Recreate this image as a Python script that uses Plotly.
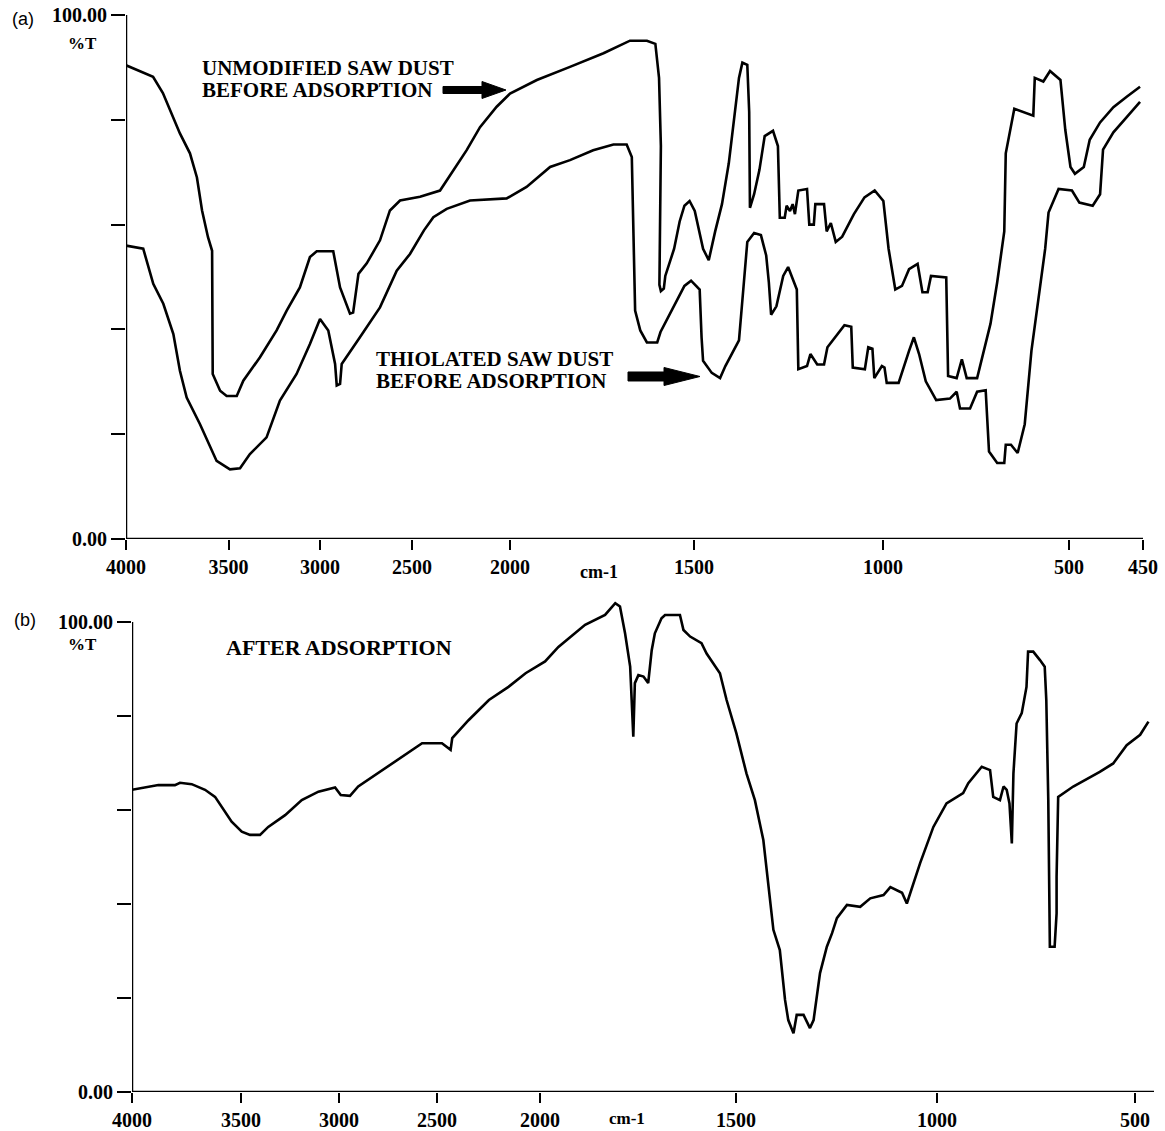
import numpy as np
import plotly.graph_objects as go

W, H = 1165, 1131

# ---------------- data (wavenumber cm-1, %T) ----------------
UNMOD_WN = [4000, 3868, 3820, 3771, 3737, 3688, 3654, 3629, 3600, 3580, 3577, 3541, 3509, 3455, 3419,
            3328, 3237, 3182, 3110, 3055, 3018, 2928, 2891, 2837, 2820, 2791, 2746, 2674, 2620, 2565,
            2459, 2357, 2289, 2221, 2153, 2068, 2000, 1927, 1837, 1746, 1674, 1628, 1605, 1595, 1590,
            1592, 1594, 1590, 1582, 1578, 1570, 1554, 1539, 1526, 1512, 1498, 1476, 1461, 1444, 1426,
            1408, 1395, 1381, 1372, 1359, 1354, 1352, 1341, 1327, 1313, 1291, 1278, 1273, 1260, 1255,
            1246, 1239, 1233, 1224, 1201, 1195, 1183, 1179, 1156, 1149, 1138, 1125, 1108, 1077, 1049,
            1022, 999, 985, 967, 949, 930, 907, 894, 880, 871, 830, 825, 802, 788, 775,
            747, 711, 693, 674, 670, 647, 596, 592, 569, 551, 523, 510, 499, 496, 490,
            486, 479, 470, 461, 452]
UNMOD_T = [90.4, 88.2, 85.1, 80.5, 77.4, 73.6, 69.0, 62.7, 57.6, 55.0, 31.5, 28.3, 27.3, 27.3, 30.2,
           34.7, 39.8, 43.6, 48.0, 53.8, 54.9, 54.9, 48.0, 43.0, 43.2, 50.6, 52.6, 57.0, 62.7, 64.6,
           65.3, 66.5, 70.4, 74.2, 78.6, 82.5, 85.0, 87.6, 90.1, 92.7, 95.1, 95.1, 94.5, 88.0, 75.0,
           60.0, 48.5, 47.3, 47.8, 50.2, 52.0, 55.4, 60.6, 63.6, 64.5, 62.6, 55.4, 53.2, 58.7, 63.9,
           71.7, 79.5, 88.0, 90.9, 90.5, 81.5, 63.2, 65.8, 70.4, 76.9, 77.9, 75.0, 61.3, 61.3, 63.6,
           62.6, 63.9, 62.0, 66.5, 66.8, 60.0, 60.0, 63.9, 63.9, 58.7, 60.3, 56.7, 57.7, 62.0, 65.2,
           66.5, 64.5, 55.4, 47.6, 48.3, 51.5, 52.5, 47.1, 47.1, 50.2, 49.9, 31.1, 30.7, 34.3, 30.7,
           30.7, 41.1, 49.0, 58.7, 73.6, 82.1, 80.8, 88.0, 87.3, 89.3, 87.6, 78.1, 71.0, 69.7, 71.0,
           76.2, 79.5, 82.4, 84.4, 86.3]

THIOL_WN = [4000, 3916, 3867, 3818, 3769, 3737, 3704, 3639, 3558, 3492, 3437, 3383, 3292, 3219, 3128,
            3055, 3000, 2955, 2918, 2909, 2891, 2882, 2783, 2674, 2583, 2511, 2439, 2391, 2323, 2204,
            2017, 1955, 1891, 1837, 1774, 1719, 1683, 1669, 1660, 1655, 1646, 1628, 1600, 1591, 1554,
            1526, 1508, 1485, 1480, 1476, 1453, 1431, 1417, 1381, 1368, 1359, 1341, 1323, 1309, 1302,
            1296, 1282, 1264, 1251, 1228, 1224, 1201, 1192, 1174, 1156, 1147, 1102, 1084, 1080, 1048,
            1039, 1028, 1023, 1003, 996, 990, 958, 930, 917, 903, 885, 857, 820, 802, 793,
            766, 747, 724, 715, 693, 674, 670, 656, 638, 619, 601, 583, 564, 555, 528,
            498, 493, 484, 479, 477, 470, 461, 452]
THIOL_T = [56.0, 55.4, 48.7, 44.9, 39.1, 32.1, 27.0, 21.9, 14.9, 13.3, 13.5, 16.2, 19.4, 26.4, 31.5,
           37.2, 42.0, 39.8, 33.4, 29.3, 29.6, 33.4, 38.5, 44.2, 51.2, 54.4, 58.9, 61.4, 63.0, 64.6,
           65.0, 67.2, 71.0, 72.3, 74.2, 75.3, 75.3, 72.9, 43.6, 42.4, 39.8, 37.5, 37.5, 39.5, 44.4,
           48.3, 49.3, 47.6, 38.5, 34.0, 31.7, 30.7, 33.0, 37.9, 49.0, 56.7, 58.4, 58.0, 54.1, 49.0,
           42.8, 44.4, 50.2, 51.9, 47.6, 32.4, 33.0, 35.3, 33.3, 33.3, 36.6, 40.8, 40.5, 32.7, 32.4,
           36.6, 36.3, 30.7, 33.0, 32.7, 29.8, 29.8, 35.9, 38.5, 35.3, 30.1, 26.5, 26.8, 28.1, 24.9,
           24.9, 28.1, 28.4, 16.7, 14.5, 14.5, 18.0, 18.0, 16.4, 21.9, 35.9, 45.7, 55.4, 62.3, 66.8,
           66.5, 64.2, 63.6, 65.8, 74.3, 77.6, 80.5, 83.4]

AFTER_WN = [4000, 3879, 3803, 3780, 3726, 3665, 3619, 3589, 3543, 3496, 3454, 3403, 3361, 3275, 3190,
            3105, 3020, 2991, 2944, 2902, 2816, 2731, 2646, 2576, 2476, 2434, 2426, 2347, 2248, 2153,
            2070, 1987, 1953, 1885, 1834, 1808, 1796, 1783, 1770, 1766, 1762, 1758, 1749, 1736, 1724,
            1715, 1707, 1690, 1681, 1643, 1634, 1617, 1588, 1575, 1541, 1524, 1499, 1474, 1453, 1432,
            1420, 1407, 1391, 1378, 1370, 1357, 1349, 1332, 1316, 1307, 1291, 1274, 1261, 1249, 1224,
            1191, 1166, 1133, 1116, 1087, 1075, 1067, 1042, 1009, 976, 934, 921, 887, 866, 858,
            841, 832, 824, 817, 811, 807, 799, 786, 774, 770, 757, 740, 728, 724, 719,
            715, 703, 698, 698, 694, 656, 589, 555, 521, 487, 466]
AFTER_T = [64.3, 65.3, 65.3, 65.8, 65.5, 64.3, 62.8, 60.7, 57.5, 55.4, 54.7, 54.7, 56.4, 58.9, 62.1,
           63.9, 64.8, 63.2, 63.0, 65.0, 67.4, 69.9, 72.1, 74.2, 74.2, 72.8, 75.3, 79.1, 83.4, 86.2,
           89.1, 91.6, 94.7, 99.4, 101.5, 104.0, 103.3, 97.6, 90.5, 81.3, 75.6, 87.0, 88.7, 88.4, 87.0,
           94.0, 97.6, 100.8, 101.5, 101.5, 98.3, 96.9, 95.5, 93.3, 89.1, 83.4, 76.3, 67.8, 62.1, 53.6,
           44.4, 34.5, 30.2, 19.6, 15.3, 12.5, 16.4, 16.4, 13.6, 15.3, 25.3, 30.9, 33.8, 37.0, 39.8,
           39.4, 41.2, 41.9, 43.6, 42.4, 40.1, 42.3, 48.7, 56.4, 61.4, 63.6, 65.7, 69.2, 68.5, 62.8,
           62.1, 65.0, 64.3, 61.4, 52.9, 67.8, 78.4, 80.6, 86.2, 93.7, 93.7, 91.9, 90.5, 83.4, 62.1,
           30.9, 30.9, 38.0, 45.8, 62.8, 65.0, 68.1, 69.9, 73.8, 76.0, 78.8]

TICKS_A = [4000, 3500, 3000, 2500, 2000, 1500, 1000, 500, 450]
TICKS_B = [4000, 3500, 3000, 2500, 2000, 1500, 1000, 500]
Y_TICKS = [0, 20, 40, 60, 80, 100]
Y_TICKTEXT = ["0.00", "", "", "", "", "100.00"]

# ---------------- instrument x-scale (expanded below 2000 cm-1) ----------------
SCALE_A_WN = TICKS_A
SCALE_A_POS = [0, 102.5, 194, 286, 384, 568, 757, 943, 1017]
SCALE_B_WN = TICKS_B + [450]
SCALE_B_POS = [0, 109, 207, 305, 408, 604, 805, 1003, 1022.8]


def to_axis(wn, scale_wn, scale_pos):
    return np.interp(-np.asarray(wn, float), -np.asarray(scale_wn, float), scale_pos)


def P(x, y):
    return x / W, 1 - y / H


BLACK = "black"
SERIF = "Liberation Serif"
LW = 2.6

fig = go.Figure()
fig.add_trace(go.Scatter(x=to_axis(UNMOD_WN, SCALE_A_WN, SCALE_A_POS), y=UNMOD_T, mode="lines",
                         line=dict(color=BLACK, width=LW), xaxis="x", yaxis="y",
                         name="Unmodified saw dust before adsorption"))
fig.add_trace(go.Scatter(x=to_axis(THIOL_WN, SCALE_A_WN, SCALE_A_POS), y=THIOL_T, mode="lines",
                         line=dict(color=BLACK, width=LW), xaxis="x", yaxis="y",
                         name="Thiolated saw dust before adsorption"))
fig.add_trace(go.Scatter(x=to_axis(AFTER_WN, SCALE_B_WN, SCALE_B_POS), y=AFTER_T, mode="lines",
                         line=dict(color=BLACK, width=LW), xaxis="x2", yaxis="y2",
                         name="After adsorption"))

tickfont = dict(family=SERIF, size=20, color=BLACK, weight="bold")
xcommon = dict(showgrid=False, zeroline=False, showline=False, ticks="outside", ticklen=10,
               tickwidth=2, tickcolor=BLACK, tickfont=tickfont, fixedrange=True, automargin=False)
ycommon = dict(showgrid=False, zeroline=False, showline=False, ticks="outside", ticklen=14,
               tickwidth=2, tickcolor=BLACK, tickfont=tickfont, tickvals=Y_TICKS,
               ticktext=Y_TICKTEXT, fixedrange=True, automargin=False)

fig.update_layout(
    template="none",
    width=W, height=H, margin=dict(l=0, r=0, t=0, b=0, pad=0), autosize=False,
    paper_bgcolor="white", plot_bgcolor="white", showlegend=False, hovermode=False,
    xaxis=dict(**xcommon, domain=[126 / W, 1143 / W], range=[0, 1017], anchor="y",
               tickvals=SCALE_A_POS, ticktext=[str(t) for t in TICKS_A]),
    yaxis=dict(**ycommon, domain=[1 - 539 / H, 1 - 15 / H], range=[0, 100], anchor="x"),
    xaxis2=dict(**xcommon, domain=[132 / W, 1154 / W], range=[0, 1022], anchor="y2",
                tickvals=SCALE_B_POS[:len(TICKS_B)], ticktext=[str(t) for t in TICKS_B]),
    yaxis2=dict(**ycommon, domain=[1 - 1092 / H, 1 - 598.5 / H], range=[0, 105], anchor="x2"),
)

shapes = [
    dict(type="line", xref="x", yref="y", x0=0, y0=0, x1=1017, y1=0, line=dict(color=BLACK, width=2.5)),
    dict(type="line", xref="x", yref="y", x0=0, y0=0, x1=0, y1=100, line=dict(color=BLACK, width=2.5)),
    dict(type="line", xref="x2", yref="y2", x0=0, y0=0, x1=1022, y1=0, line=dict(color=BLACK, width=2.5)),
    dict(type="line", xref="x2", yref="y2", x0=0, y0=0, x1=0, y1=100, line=dict(color=BLACK, width=2.5)),
]


def arrow_path(x0, x1, x2, yc, hs, hh):
    pts = [(x0, yc - hs), (x1, yc - hs), (x1, yc - hh), (x2, yc), (x1, yc + hh), (x1, yc + hs), (x0, yc + hs)]
    s = ""
    for i, (x, y) in enumerate(pts):
        px, py = P(x, y)
        s += ("M" if i == 0 else "L") + f"{px:.5f},{py:.5f} "
    return s + "Z"


for a in [(443, 482, 506, 90, 3.5, 8.5), (628, 664, 700, 376.5, 4.5, 9)]:
    shapes.append(dict(type="path", xref="paper", yref="paper", path=arrow_path(*a),
                       fillcolor=BLACK, line=dict(color=BLACK, width=1)))
fig.update_layout(shapes=shapes)


def add_text(text, x, y, size, family=SERIF, bold=True, xanchor="left"):
    px, py = P(x, y)
    fig.add_annotation(text=text, x=px, y=py, xref="paper", yref="paper", showarrow=False,
                       xanchor=xanchor, yanchor="middle", borderpad=0,
                       font=dict(family=family, size=size, color=BLACK, weight="bold" if bold else "normal"))


add_text("(a)", 23, 19, 18, family="Liberation Sans", bold=False, xanchor="center")
add_text("(b)", 25, 620, 18, family="Liberation Sans", bold=False, xanchor="center")
add_text("%T", 82, 43, 17, xanchor="center")
add_text("%T", 82, 644, 17, xanchor="center")
add_text("UNMODIFIED SAW DUST", 201, 68, 21)
add_text("BEFORE ADSORPTION", 201, 90, 21)
add_text("THIOLATED SAW DUST", 375, 359, 21)
add_text("BEFORE ADSORPTION", 375, 381, 21)
add_text("AFTER ADSORPTION", 225, 647, 22)
add_text("cm-1", 599, 572, 18, xanchor="center")
add_text("cm-1", 627, 1118, 17, xanchor="center")

fig.write_html("out.html", post_script="document.body.style.margin='0';",
               config=dict(displayModeBar=False))
